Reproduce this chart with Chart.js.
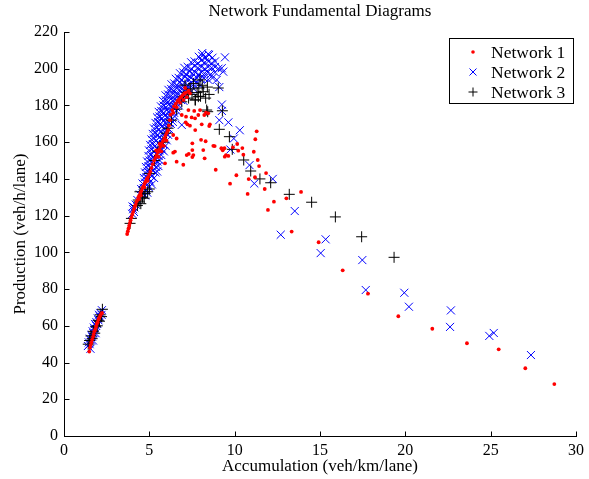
<!DOCTYPE html>
<html>
<head>
<meta charset="utf-8">
<script src="https://cdn.jsdelivr.net/npm/chart.js@4.4.1/dist/chart.umd.min.js"></script>
<style>
html,body{margin:0;padding:0;background:#fff;}
#wrap{width:589px;height:479px;}
</style>
</head>
<body>
<div id="wrap"><canvas id="c" width="589" height="479"></canvas></div>
<script>
// ---- data ----
const chartTitle = "Network Fundamental Diagrams";
const xAxisTitle = "Accumulation (veh/km/lane)";
const yAxisTitle = "Production (veh/h/lane)";
const seriesNames = ["Network 1", "Network 2", "Network 3"];
const xTicks = [0, 5, 10, 15, 20, 25, 30];
const yTicks = [0, 20, 40, 60, 80, 100, 120, 140, 160, 180, 200, 220];

const net1Points = [
  [1.48,46],[1.52,48],[1.56,49.5],[1.6,51],[1.65,52.5],[1.7,54],[1.74,55.5],[1.78,57],[1.83,58],[1.88,59.5],[1.92,61],[1.97,62],[2.02,63.5],[2.07,64.5],[2.12,65.5],[2.18,66.5],[2.23,67],
  [3.7,110],[3.74,111.5],[3.78,113],[3.82,114.5],[3.86,116],[3.9,117.5],[3.95,119],[4.0,120.5],[4.05,122],[4.1,123.5],[4.15,125],[4.2,126],[4.25,127.5],[4.3,128.5],[4.36,130],[4.42,131],[4.48,132.5],[4.54,133.5],[4.6,135],[4.66,136],[4.72,137.5],[4.78,138.5],[4.85,140],[4.92,141],[5.0,142.5],[5.06,144],[4.5,131],[4.4,129],[4.7,135.5],[4.9,139],
  [5.12,146],[5.2,148],[5.28,150],[5.35,151.5],[5.42,153],[5.5,154.5],[5.58,156],[5.65,157.5],[5.72,159],[5.8,160.5],[5.88,162],[5.95,163.5],[6.02,165],[6.1,166.5],[5.55,152],[5.7,155],[5.85,158],[6.0,161],[5.4,155.5],[5.6,159],[6.15,169],[6.2,172],
  [6.25,175],[6.35,177.5],[6.45,179.5],[6.55,181],[6.65,182.5],[6.75,183.5],[6.85,184.5],[6.95,185.5],[7.05,186.5],[7.15,187],[7.3,188],[6.6,179],[6.8,181.5],[7.0,183],[7.2,184.5],[7.38,186.6],[7.1,189.5],[6.4,176],
  [5.92,148.5],[6.4,154.3],[6.6,149.4],[6.99,147.7],[6.4,163.9],[6.6,162],[6.9,174.8],[7.13,170.8],[7.15,173.9],[7.23,169.7],[7.29,177.5],[7.38,169.0],[7.48,173.5],[7.63,177],[7.68,173.0],[7.69,166.6],[7.87,174.8],[7.97,177.5],[8.07,169.7],[8.22,174.8],[8.32,176.1],[8.45,175.7],[8.55,169.7],[8.51,168.8],[8.03,161.3],[8.30,160.5],[7.52,159.4],[7.52,155.7],[7.31,153.6],[7.58,153.0],[7.52,151.9],[7.19,153],[6.5,154.9],[8.24,151.2],[8.16,155.7],[8.75,158],[8.83,157.9],[9.22,156.7],[9.30,155.6],[9.4,156.7],[9.90,157.2],[10.15,159.0],[10.45,156.8],[10.21,155.4],[9.49,153.0],[9.42,152.1],[9.63,152.5],[10.51,153.2],[11.12,154.8],[11.35,150.3],[11.43,147.0],[11.29,165.9],[11.21,161.6],[8.89,145.0],[10.10,142.0],[9.73,137.4],[10.76,131.8],[11.84,143.2],[11.19,140.9],[10.82,139.9],[11.76,134.5],[12.30,127.6],[11.95,123.1],[13.03,129.4],[13.89,132.9],[13.34,111.3],[14.92,105.5],[16.33,90.2],[17.81,77.5],[19.59,65.2],[21.58,58.4],[23.61,50.5],[25.47,47.2],[27.03,36.9],[28.73,28.3]
];

const net2Points = [
  [1.4,49],[1.45,51],[1.5,50],[1.52,53],[1.58,52],[1.6,55],[1.65,54],[1.68,57],[1.72,56],[1.75,59],[1.8,58],[1.82,61],[1.88,60],[1.9,62],[1.95,61],[1.98,64],[2.02,63],[2.05,66],[2.1,65],[2.13,67],[2.2,66],[2.22,68.5],[1.55,47.5],[1.7,52],[1.85,56],
  [4.0,121],[4.05,123.5],[4.1,122],[4.02,125],[4.12,124.5],[4.2,126],[4.3,128.5],
  [4.45,131.5],[4.6,132],[4.75,131],[4.88,132.5],
  [4.52,134.5],[4.67,135],[4.82,134],[4.97,135.5],
  [4.6,137.5],[4.75,138],[4.9,137],[5.05,138.5],[5.15,137],
  [4.68,140.5],[4.83,141],[4.98,140],[5.13,141.5],[5.28,140.5],
  [4.75,143.5],[4.9,144],[5.05,143],[5.2,144.5],[5.35,143.5],[5.46,144],
  [4.8,146.5],[4.95,147],[5.1,146],[5.25,147.5],[5.4,146.5],[5.53,147],
  [4.87,149.5],[5.02,150],[5.17,149],[5.32,150.5],[5.47,149.5],[5.62,150],
  [4.95,152.5],[5.1,153],[5.25,152],[5.4,153.5],[5.55,152.5],[5.7,153],
  [4.98,155.5],[5.13,156],[5.28,155],[5.43,156.5],[5.58,155.5],[5.73,156],[5.85,155],
  [5.05,158.5],[5.2,159],[5.35,158],[5.5,159.5],[5.65,158.5],[5.8,159],[5.95,158],
  [5.12,161.5],[5.27,162],[5.42,161],[5.57,162.5],[5.72,161.5],[5.87,162],[6.02,161],
  [5.2,164.5],[5.35,165],[5.5,164],[5.65,165.5],[5.8,164.5],[5.95,165],[6.1,164],
  [5.27,167.5],[5.42,168],[5.57,167],[5.72,168.5],[5.87,167.5],[6.02,168],[6.17,167],
  [5.36,170.5],[5.51,171],[5.66,170],[5.81,171.5],[5.96,170.5],[6.11,171],[6.26,170],[6.38,171],
  [5.45,173.5],[5.6,174],[5.75,173],[5.9,174.5],[6.05,173.5],[6.2,174],[6.35,173],[6.5,174],
  [5.55,176.5],[5.7,177],[5.85,176],[6.0,177.5],[6.15,176.5],[6.3,177],[6.45,176],[6.6,177],
  [5.68,179.5],[5.83,180],[5.98,179],[6.13,180.5],[6.28,179.5],[6.43,180],[6.58,179],[6.73,180],
  [5.8,182.5],[5.95,183],[6.1,182],[6.25,183.5],[6.4,182.5],[6.55,183],[6.7,182],[6.85,183],[7.0,182.5],
  [5.95,185.5],[6.1,186],[6.25,185],[6.4,186.5],[6.55,185.5],[6.7,186],[6.85,185],[7.0,186],[7.15,185.5],
  [6.12,188.5],[6.28,189],[6.44,188],[6.6,189.5],[6.76,188.5],[6.92,189],[7.08,188],[7.24,189],[7.4,188.5],[7.6,189],
  [6.3,191.5],[6.46,192],[6.62,191],[6.78,192.5],[6.94,191.5],[7.1,192],[7.26,191],[7.42,192],[7.6,191.5],[7.8,192],[8.0,191],
  [6.55,194.5],[6.72,195],[6.9,194],[7.08,195.5],[7.26,194.5],[7.44,195],[7.62,194],[7.8,195],[8.0,194.5],[8.2,195],[8.45,194],[8.7,195],
  [6.8,197.5],[6.98,198],[7.16,197],[7.34,198.5],[7.52,197.5],[7.7,198],[7.88,197],[8.06,198],[8.24,197.5],[8.42,198],[8.6,197],[8.85,198],
  [7.05,200.5],[7.25,201],[7.45,200],[7.65,201.5],[7.85,200.5],[8.05,201],[8.25,200],[8.45,201],[8.65,200.5],[8.85,201],[9.05,200],
  [7.45,203.5],[7.65,204],[7.85,203],[8.05,204.5],[8.25,203.5],[8.45,204],[8.65,203],[8.85,204],
  [7.9,206.5],[8.1,207],[8.3,206],[8.5,207.5],[8.7,206],
  [8.1,208.5],[8.45,208],[9.43,206.2],[9.24,200.3],[9.33,198.4],[8.95,193.9],[9.1,190],
  [9.25,180.5],[9.25,177],[9.1,172],[9.63,170.8],[10.3,166.5],[9.95,162],[9.75,156],[10.87,147.5],[11.15,137.5],[12.23,140],[6.9,169.4],[12.7,109.6],[13.52,122.5],[15.33,107.1],[15.04,99.6],[17.48,95.8],[17.68,79.5],[19.94,78.0],[20.21,70.4],[22.67,68.4],[22.62,59.4],[24.92,54.5],[25.18,56.1],[27.36,44.1]
];

const net3Points = [
  [1.42,50],[1.5,52],[1.58,54.5],[1.65,53],[1.72,57],[1.8,56],[1.85,59.5],[1.95,60],[2.0,63],[2.08,62.5],[2.12,66],[2.2,65],[2.25,69],
  [3.87,115.8],[3.95,118.5],[4.3,125.5],[4.4,127.5],[4.5,126.5],[4.35,128.5],[4.6,130],[4.75,132],[4.7,129.5],[4.9,133],[5.0,134.5],[4.45,133],
  [5.0,143],[5.3,150],[5.5,155],[5.8,160],[6.0,164.9],[6.1,167.6],[6.3,172],[6.6,178],[6.9,182],
  [7.0,185],[7.2,187],[7.3,184],[7.4,189],[7.5,186],[7.58,192],[7.7,183],[7.8,187],[7.9,189.5],[7.97,193.9],[8.0,185],[8.1,191],[8.16,187.5],[8.3,184],[8.4,190],[8.5,186],[7.09,191.1],[8.36,177.5],[8.42,176.6],[7.68,183],[7.87,184.8],[9.04,189.5],
  [9.28,177.1],[9.1,167],[9.69,163],[9.86,156.1],[10.53,150.3],[10.94,144.3],[11.48,140],[12.11,137.9],[13.2,131.6],[14.51,127.3],[15.90,119.3],[17.44,108.5],[19.34,97.3]
];

// ---- chart ----
const FONT = "'Liberation Serif', 'Times New Roman', serif";
const toXY = arr => arr.map(p => ({x: p[0], y: p[1]}));

const styles = [
  {pointStyle: 'circle', radius: 1.9, color: '#ff0000', bw: 0},
  {pointStyle: 'crossRot', radius: 5.7, color: '#0000ff', bw: 1},
  {pointStyle: 'cross', radius: 5.5, color: '#000000', bw: 1}
];

function mkDataset(i, pts, order) {
  const s = styles[i];
  return {
    label: seriesNames[i],
    data: toXY(pts),
    pointStyle: s.pointStyle,
    pointRadius: s.radius,
    pointHoverRadius: s.radius,
    pointBackgroundColor: s.color,
    pointBorderColor: s.color,
    pointBorderWidth: s.bw,
    showLine: false,
    order: order
  };
}

const decor = {
  id: 'decor',
  afterDraw(chart) {
    const ctx = chart.ctx;
    const xs = chart.scales.x, ys = chart.scales.y;
    const ca = chart.chartArea;
    ctx.save();
    ctx.strokeStyle = '#000';
    ctx.lineWidth = 1;
    ctx.beginPath();
    xTicks.forEach(v => {
      const px = Math.round(xs.getPixelForValue(v)) + 0.5;
      ctx.moveTo(px, Math.round(ca.bottom) + 0.5);
      ctx.lineTo(px, Math.round(ca.bottom) + 0.5 - 5);
    });
    yTicks.forEach(v => {
      const py = Math.round(ys.getPixelForValue(v)) + 0.5;
      ctx.moveTo(Math.round(ca.left) + 0.5, py);
      ctx.lineTo(Math.round(ca.left) + 0.5 + 5, py);
    });
    ctx.stroke();
    ctx.fillStyle = '#000';
    ctx.font = "17px " + FONT;
    ctx.textAlign = 'center';
    ctx.textBaseline = 'middle';
    ctx.fillText(chartTitle, (ca.left + ca.right) / 2, 12);
    const bx = 449.5, by = 38.5, bw = 124, bh = 65;
    ctx.fillStyle = '#fff';
    ctx.fillRect(bx, by, bw, bh);
    ctx.strokeRect(bx, by, bw, bh);
    ctx.font = "17.5px " + FONT;
    ctx.textAlign = 'left';
    const rows = [52, 72, 92];
    for (let i = 0; i < 3; i++) {
      const mx = 473, my = rows[i];
      const s = styles[i];
      ctx.strokeStyle = s.color;
      ctx.fillStyle = s.color;
      ctx.beginPath();
      if (s.pointStyle === 'circle') {
        ctx.arc(mx, my, 1.8, 0, Math.PI * 2);
        ctx.fill();
      } else if (s.pointStyle === 'crossRot') {
        const r = 3.5;
        ctx.moveTo(mx - r, my - r); ctx.lineTo(mx + r, my + r);
        ctx.moveTo(mx + r, my - r); ctx.lineTo(mx - r, my + r);
        ctx.stroke();
      } else {
        const r = 4.5;
        ctx.moveTo(mx - r, my); ctx.lineTo(mx + r, my);
        ctx.moveTo(mx, my - r); ctx.lineTo(mx, my + r);
        ctx.stroke();
      }
      ctx.fillStyle = '#000';
      ctx.fillText(seriesNames[i], 491, my + 1);
    }
    ctx.restore();
  }
};

new Chart(document.getElementById('c'), {
  type: 'scatter',
  data: {
    datasets: [
      mkDataset(0, net1Points, 0),
      mkDataset(2, net3Points, 1),
      mkDataset(1, net2Points, 2)
    ]
  },
  options: {
    responsive: false,
    animation: false,
    events: [],
    layout: {padding: {top: 32, right: 13, bottom: 0, left: 0}},
    plugins: {legend: {display: false}, title: {display: false}, tooltip: {enabled: false}},
    scales: {
      x: {
        type: 'linear', min: 0, max: 30,
        afterBuildTicks(scale) { scale.ticks = xTicks.map(v => ({value: v})); },
        afterFit(scale) { scale.height = 43; },
        grid: {display: false, drawTicks: false, tickLength: 0},
        border: {display: true, color: '#000', width: 1},
        ticks: {color: '#000', font: {family: FONT, size: 16}, padding: 5, maxRotation: 0},
        title: {display: true, text: xAxisTitle, color: '#000', font: {family: FONT, size: 17}, padding: {top: 0, bottom: 2}}
      },
      y: {
        type: 'linear', min: 0, max: 220,
        afterBuildTicks(scale) { scale.ticks = yTicks.map(v => ({value: v})); },
        afterFit(scale) { scale.width = 64; },
        grid: {display: false, drawTicks: false, tickLength: 0},
        border: {display: true, color: '#000', width: 1},
        ticks: {color: '#000', font: {family: FONT, size: 16}, padding: 6},
        title: {display: true, text: yAxisTitle, color: '#000', font: {family: FONT, size: 17}, padding: {top: 10, bottom: 0}}
      }
    }
  },
  plugins: [decor]
});
</script>
</body>
</html>
